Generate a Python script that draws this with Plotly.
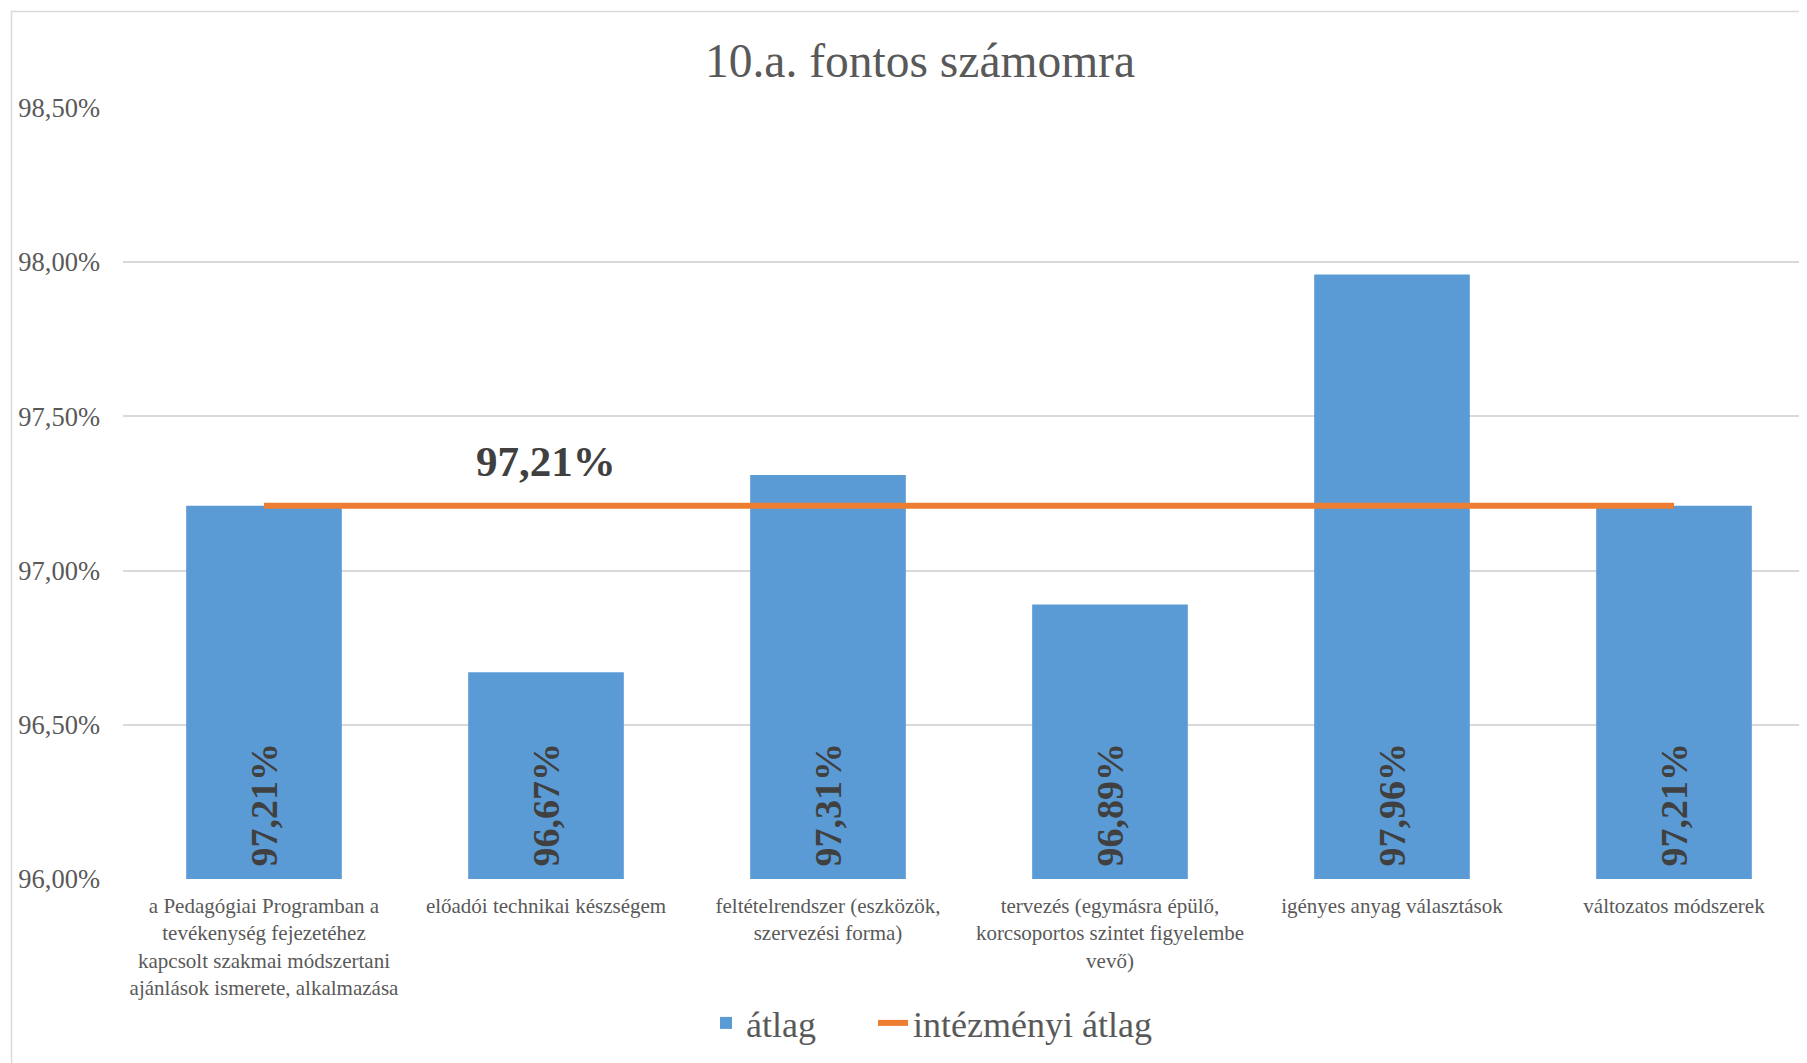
import plotly.graph_objects as go

categories = [
    "a Pedagógiai Programban a<br>tevékenység fejezetéhez<br>kapcsolt szakmai módszertani<br>ajánlások ismerete, alkalmazása",
    "előadói technikai készségem",
    "feltételrendszer (eszközök,<br>szervezési forma)",
    "tervezés (egymásra épülő,<br>korcsoportos szintet figyelembe<br>vevő)",
    "igényes anyag választások",
    "változatos módszerek",
]
atlag = [97.21, 96.67, 97.31, 96.89, 97.96, 97.21]
intezmenyi_atlag = [97.21, 97.21, 97.21, 97.21, 97.21, 97.21]
y_ticks = [96.0, 96.5, 97.0, 97.5, 98.0, 98.5]
title_text = "10.a. fontos számomra"
series_names = ["átlag", "intézményi átlag"]
line_label_index = 1

# page body has an 8px margin, so the figure is offset by 8px
OFF = 8
W, H = 1807 - OFF, 1063 - OFF
ML, MR, MT, MB = 123 - OFF, 0, 108 - OFF, 184
FONT = "Liberation Serif, Times New Roman, serif"
GRAY = "#595959"

def pct(v):
    return f"{v:.2f}%".replace(".", ",")

fig = go.Figure()
fig.add_trace(go.Bar(
    x=list(range(len(categories))), y=[v - y_ticks[0] for v in atlag], base=y_ticks[0],
    name=series_names[0], legend="legend",
    marker=dict(color="#5B9BD5", line=dict(width=0)),
    text=["\u00a0" + pct(v) for v in atlag], texttemplate="%{text}",
    textposition="inside", insidetextanchor="start",
    textangle=-90, constraintext="none",
    textfont=dict(family=FONT, size=38, color="#404040", weight="bold"),
    hoverinfo="skip",
))

fig.add_trace(go.Scatter(
    x=list(range(len(categories))), y=intezmenyi_atlag, name=series_names[1], legend="legend2",
    mode="lines", line=dict(color="#ED7D31", width=6), hoverinfo="skip",
))

fig.add_annotation(
    x=line_label_index, y=intezmenyi_atlag[line_label_index],
    text=pct(intezmenyi_atlag[line_label_index]),
    showarrow=False, yanchor="middle", yshift=44,
    font=dict(family=FONT, size=43, color="#404040", weight="bold"),
)

pw = W - ML - MR
ph = H - MT - MB
fig.add_shape(
    type="rect", xref="paper", yref="paper",
    x0=(11.5 - OFF - ML) / pw, x1=1.05,
    y0=(H - MB - (11.5 - OFF)) / ph, y1=-0.4,
    line=dict(color="#D9D9D9", width=1.5), fillcolor="rgba(0,0,0,0)", layer="below",
)

def px_x(page_x):
    return (page_x - OFF - ML) / pw

leg_y = -(1023 - OFF - (H - MB)) / ph
leg_common = dict(orientation="h", xanchor="left", y=leg_y, yanchor="middle",
                  font=dict(family=FONT, size=36, color=GRAY), bgcolor="rgba(0,0,0,0)")

fig.update_layout(
    width=W, height=H,
    margin=dict(l=ML, r=MR, t=MT, b=MB),
    paper_bgcolor="white", plot_bgcolor="white",
    separators=", ",
    bargap=0.448,
    title=dict(text=title_text, x=(920 - OFF) / W, xanchor="center",
               y=1 - (60 - OFF) / H, yanchor="middle",
               xref="container", yref="container",
               font=dict(family=FONT, size=47.5, color=GRAY)),
    legend=dict(x=px_x(706), **leg_common),
    legend2=dict(x=px_x(873), **leg_common),
    xaxis=dict(
        tickmode="array", tickvals=list(range(len(categories))), ticktext=categories,
        range=[-0.5, 5.5 - 8 / 282], showgrid=False, zeroline=False, showline=False,
        tickfont=dict(family=FONT, size=21, color=GRAY), ticks="", ticklabelstandoff=12,
    ),
    yaxis=dict(
        range=[y_ticks[0], y_ticks[-1]], tickmode="array", tickvals=y_ticks,
        ticktext=[pct(v) for v in y_ticks],
        showgrid=True, gridcolor="#D9D9D9", gridwidth=1.5, zeroline=False, showline=False,
        tickfont=dict(family=FONT, size=26.5, color=GRAY), ticks="", ticklabelstandoff=22,
    ),
    showlegend=True,
)

fig.write_html("out.html")
